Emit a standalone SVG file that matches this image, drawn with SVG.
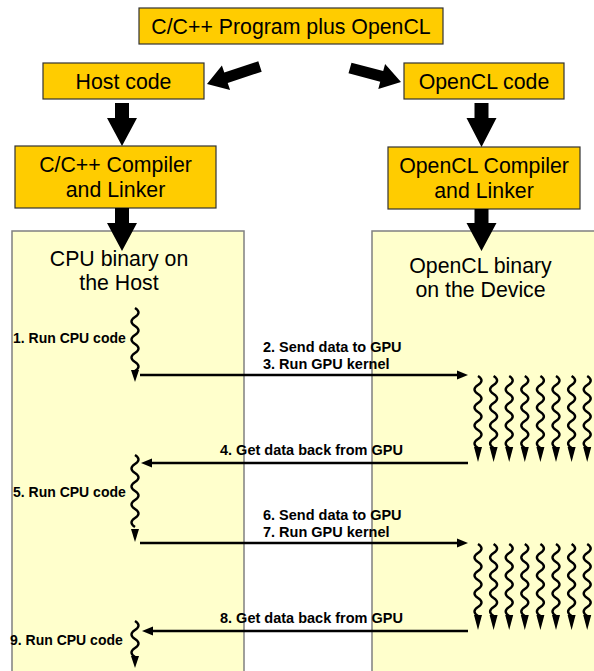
<svg xmlns="http://www.w3.org/2000/svg" xmlns:xlink="http://www.w3.org/1999/xlink" width="594" height="671" viewBox="0 0 594 671">
<style>
.box{fill:#FFCC00;stroke:#333333;stroke-width:1.2}
.panel{fill:#FFFFCC;stroke:#808080;stroke-width:1.5}
.big{font-family:"Liberation Sans",Arial,sans-serif;font-size:21.3px;fill:#000;text-anchor:middle}
.lbl{font-family:"Liberation Sans",Arial,sans-serif;font-size:14px;font-weight:bold;fill:#000}
.rl{font-size:14.5px}
.blk{fill:#000}
.line{stroke:#000;stroke-width:2.5;fill:none}
.wave{stroke:#000;stroke-width:2.4;fill:none}
</style>
<defs>
<g id="thread">
<path class="wave" d="M0,0 q7,4.5 0,9 t0,9 t0,9 t0,9 t0,9 t0,9 t0,9 t0,9"/>
<polygon class="blk" points="-4,71 4,71 0,86"/>
</g>
</defs>
<rect width="594" height="671" fill="#ffffff"/>

<g id="cpu-panel">
<rect class="panel" x="12" y="231" width="232" height="445"/>
<text class="big" x="119" y="266">CPU binary on</text>
<text class="big" x="119" y="290">the Host</text>
</g>
<g id="gpu-panel">
<rect class="panel" x="372" y="231" width="240" height="445"/>
<text class="big" x="480.5" y="273">OpenCL binary</text>
<text class="big" x="480.5" y="297">on the Device</text>
</g>

<g id="program">
<rect class="box" x="139" y="8" width="304" height="36"/>
<text class="big" x="291" y="33.5">C/C++ Program plus OpenCL</text>
</g>
<g id="host-code">
<rect class="box" x="43" y="63" width="161" height="36"/>
<text class="big" x="123.5" y="88.5">Host code</text>
</g>
<g id="opencl-code">
<rect class="box" x="404" y="63" width="160" height="36"/>
<text class="big" x="484" y="88.5">OpenCL code</text>
</g>
<g id="cpp-compiler">
<rect class="box" x="15" y="146" width="201" height="62"/>
<text class="big" x="115.5" y="172">C/C++ Compiler</text>
<text class="big" x="115.5" y="197">and Linker</text>
</g>
<g id="opencl-compiler">
<rect class="box" x="388" y="147" width="192" height="62"/>
<text class="big" x="484" y="173">OpenCL Compiler</text>
<text class="big" x="484" y="198">and Linker</text>
</g>

<g id="connectors">
<polygon class="blk" points="261.7,71.7 258.3,61.3 224.3,72.5 221.9,65.4 207,84 230.1,90.1 227.7,82.9"/>
<polygon class="blk" points="348.5,73.3 351.5,62.7 383.2,71.1 385.1,63.9 401,82 378.3,88.9 380.2,81.7"/>
<polygon class="blk" points="115,103 129,103 129,118 137,118 122,146 107,118 115,118"/>
<polygon class="blk" points="474.5,103 488.5,103 488.5,118 496.5,118 481.5,147 466.5,118 474.5,118"/>
<polygon class="blk" points="115,208 129,208 129,223 137,223 122,251 107,223 115,223"/>
<polygon class="blk" points="474.5,209 488.5,209 488.5,223 496.5,223 481.5,251 466.5,223 474.5,223"/>

<path class="line" d="M140,375 H457"/>
<polygon class="blk" points="457,370.5 468,375 457,379.5"/>
<path class="line" d="M468,463 H152"/>
<polygon class="blk" points="152,458.5 141,463 152,467.5"/>
<path class="line" d="M140,543 H457"/>
<polygon class="blk" points="457,538.5 468,543 457,547.5"/>
<path class="line" d="M468,631 H153"/>
<polygon class="blk" points="153,626.5 142,631 153,635.5"/>
</g>

<g id="cpu-threads">
<path class="wave" d="M135,308 q7,4.5 0,9 t0,9 t0,9 t0,9 t0,9 t0,9 t0,9"/>
<polygon class="blk" points="131,370 139,370 135,382"/>
<path class="wave" d="M135,455 q7,4.5 0,9 t0,9 t0,9 t0,9 t0,9 t0,9 t0,9 t0,9"/>
<polygon class="blk" points="131,529 139,529 135,542"/>
<path class="wave" d="M135,621 q7,4.5 0,9 t0,9 t0,9 t0,9"/>
<polygon class="blk" points="131,656 139,656 135,668"/>
</g>

<g id="gpu-threads-1">
<use xlink:href="#thread" x="478" y="376"/>
<use xlink:href="#thread" x="493.6" y="376"/>
<use xlink:href="#thread" x="509.2" y="376"/>
<use xlink:href="#thread" x="524.8" y="376"/>
<use xlink:href="#thread" x="540.4" y="376"/>
<use xlink:href="#thread" x="556" y="376"/>
<use xlink:href="#thread" x="571.6" y="376"/>
<use xlink:href="#thread" x="587.2" y="376"/>
</g>
<g id="gpu-threads-2">
<use xlink:href="#thread" x="478" y="544"/>
<use xlink:href="#thread" x="493.6" y="544"/>
<use xlink:href="#thread" x="509.2" y="544"/>
<use xlink:href="#thread" x="524.8" y="544"/>
<use xlink:href="#thread" x="540.4" y="544"/>
<use xlink:href="#thread" x="556" y="544"/>
<use xlink:href="#thread" x="571.6" y="544"/>
<use xlink:href="#thread" x="587.2" y="544"/>
</g>

<g id="labels">
<text class="lbl" x="13" y="343">1. Run CPU code</text>
<text class="lbl rl" x="263" y="351.5">2. Send data to GPU</text>
<text class="lbl rl" x="263" y="369">3. Run GPU kernel</text>
<text class="lbl rl" x="220" y="455">4. Get data back from GPU</text>
<text class="lbl" x="13" y="497">5. Run CPU code</text>
<text class="lbl rl" x="263" y="519.5">6. Send data to GPU</text>
<text class="lbl rl" x="263" y="537">7. Run GPU kernel</text>
<text class="lbl rl" x="220" y="623">8. Get data back from GPU</text>
<text class="lbl" x="10" y="645">9. Run CPU code</text>
</g>
</svg>
